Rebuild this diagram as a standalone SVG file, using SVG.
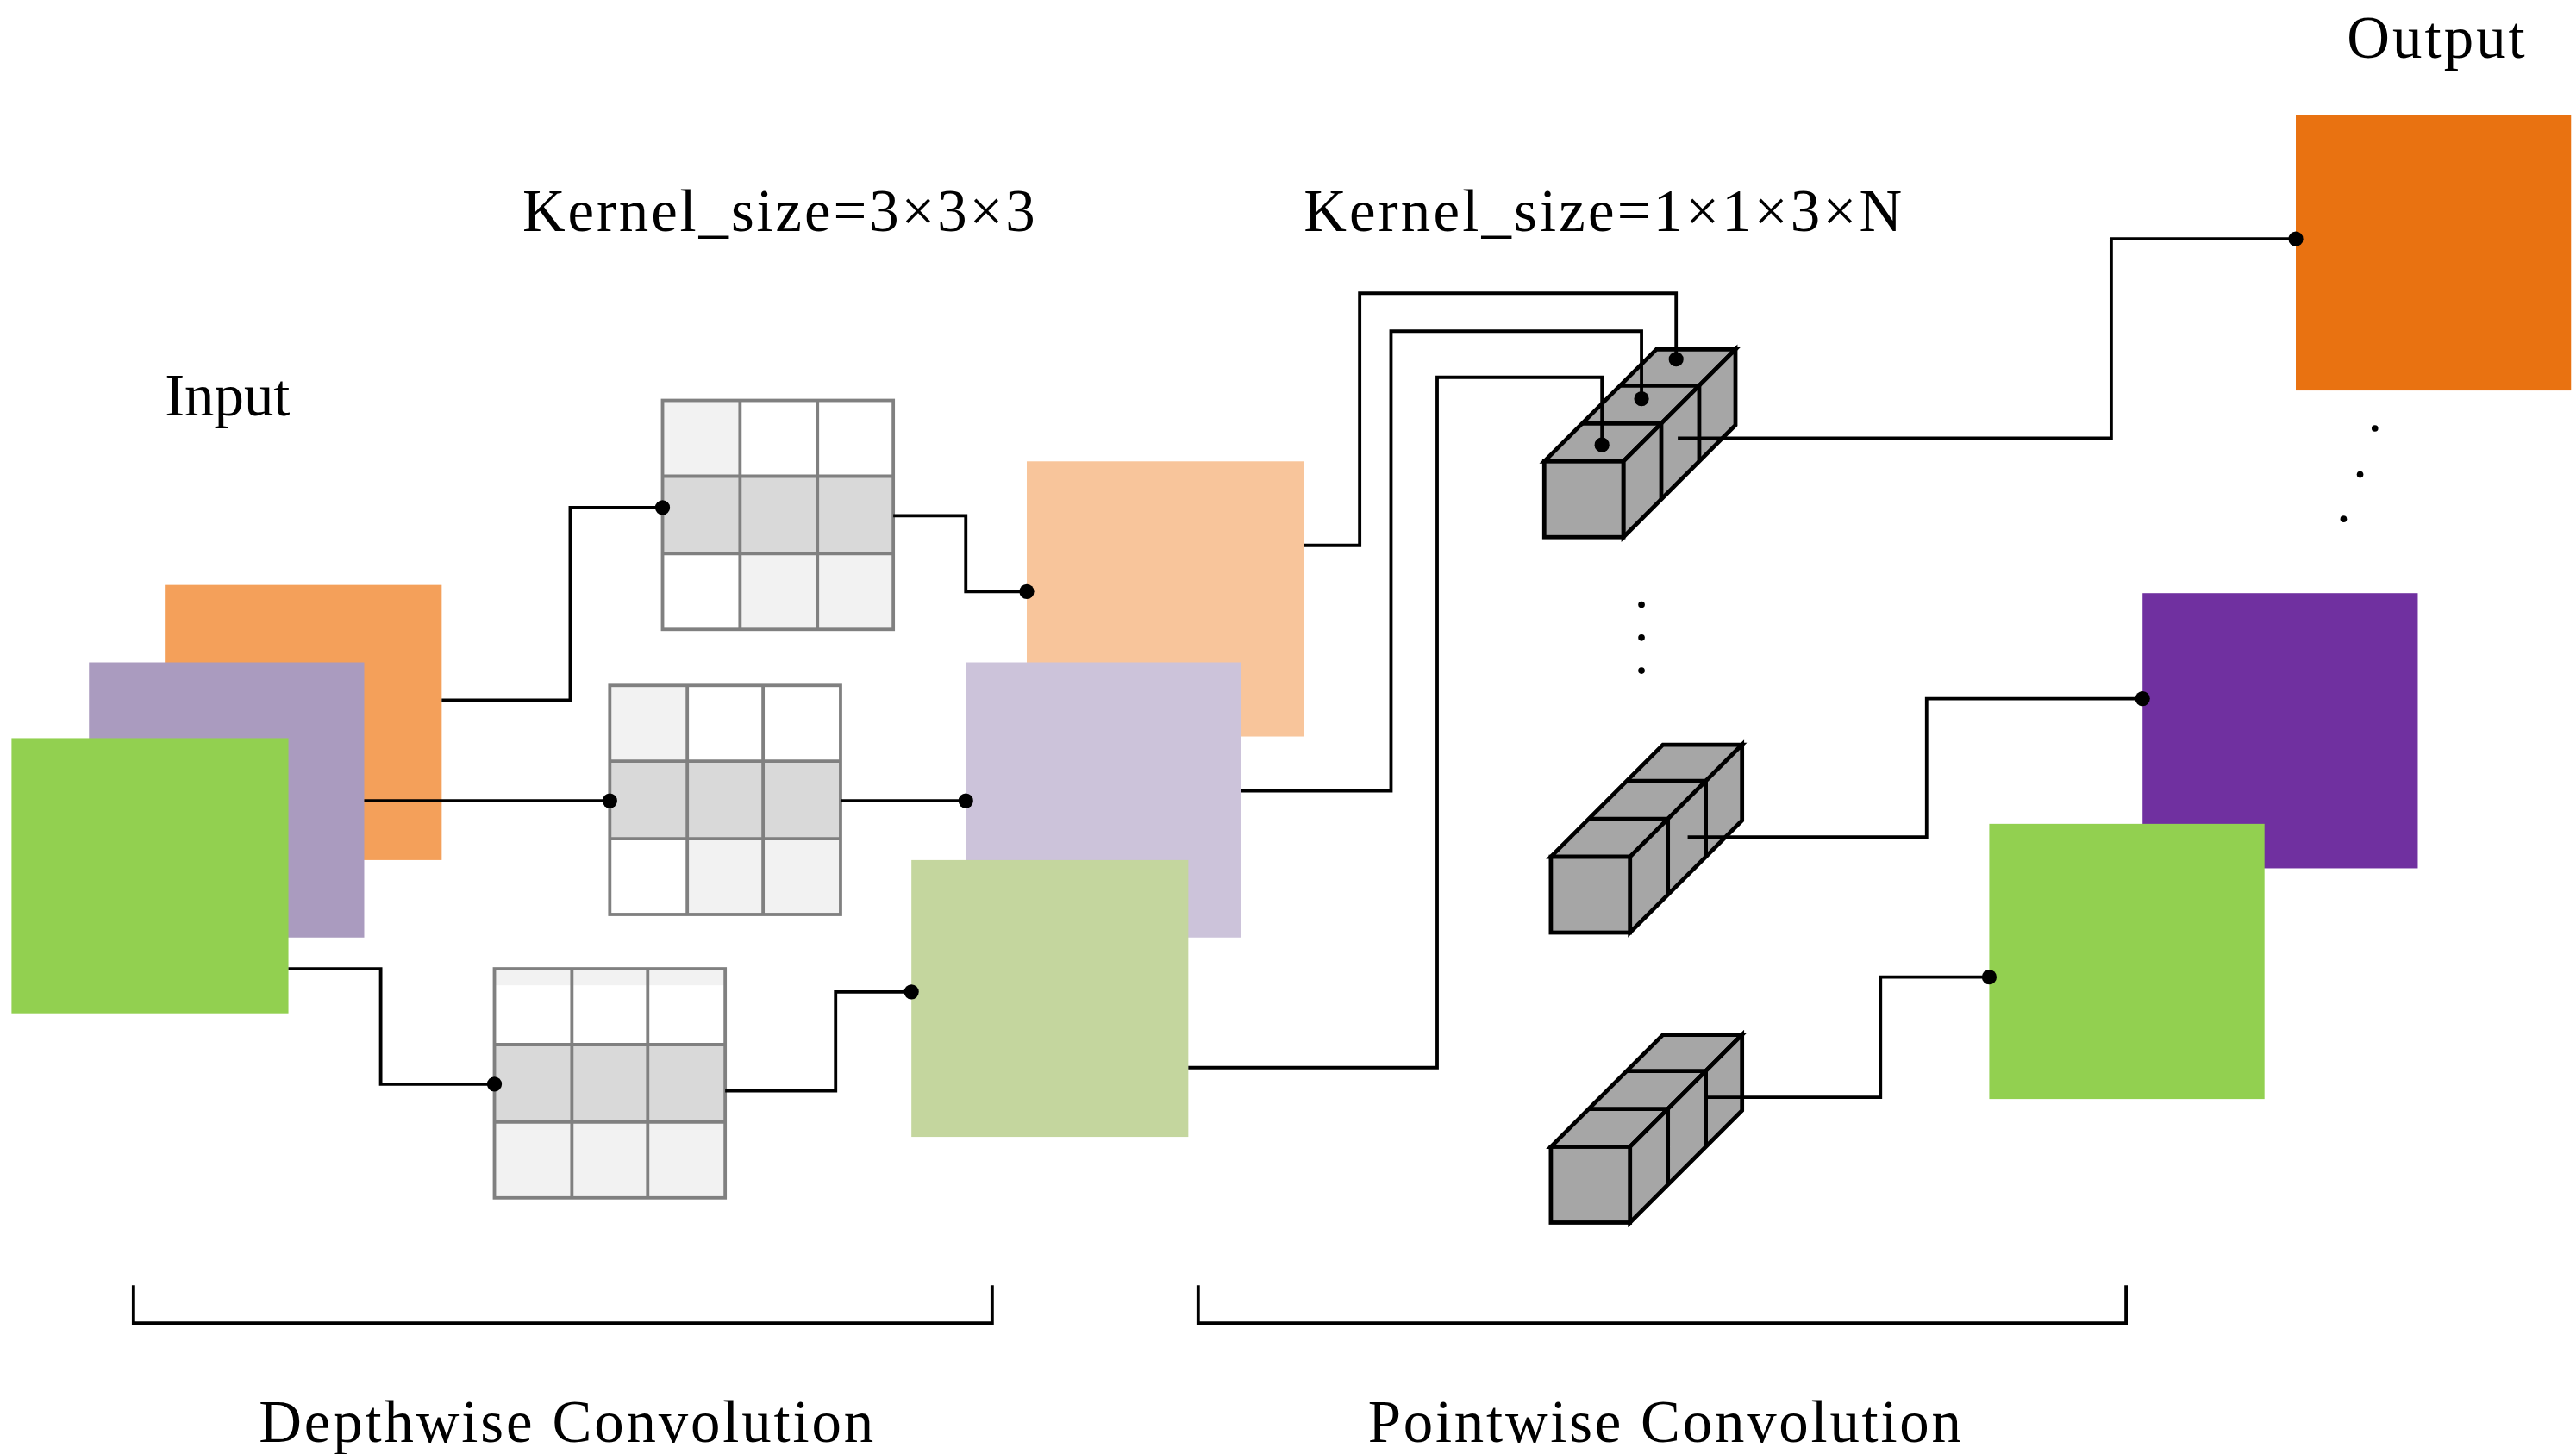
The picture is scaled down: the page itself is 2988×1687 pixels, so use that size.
<svg xmlns="http://www.w3.org/2000/svg" width="2988" height="1687" viewBox="0 0 2988 1687">
<defs>
<style>
text{font-family:"Liberation Serif","Times New Roman",serif;fill:#000;font-size:36px}
.w{stroke:#000;stroke-width:2;fill:none}
.g{stroke:#808080;stroke-width:2;fill:none}
.c{fill:#A6A6A6;stroke:#000;stroke-width:2.5;stroke-linejoin:miter}
.cl{stroke:#000;stroke-width:2.5;fill:none}
.d{fill:#000}
</style>
<g id="cube">
<polygon class="c" points="0,0 48,0 116,-68 68,-68"/>
<polygon class="c" points="48,0 116,-68 116,-22 48,46"/>
<rect class="c" x="0" y="0" width="48" height="46"/>
<path class="cl" d="M23,-23 H71 M46,-46 H94 M71,-23 V23 M94,-46 V0"/>
</g>
</defs>
<rect width="2988" height="1687" fill="#fff"/>
<g transform="scale(1.9117)">
<g id="labels">
<text x="100" y="252">Input</text>
<text x="317" y="140" textLength="311">Kernel_size=3×3×3</text>
<text x="791" y="140" textLength="363">Kernel_size=1×1×3×N</text>
<text x="1424" y="35" textLength="108">Output</text>
<text x="157" y="875" textLength="373">Depthwise Convolution</text>
<text x="830" y="875" textLength="360">Pointwise Convolution</text>
</g>
<g id="input">
<rect x="100" y="355" width="168" height="167" fill="#F4A05A"/>
<rect x="54" y="402" width="167" height="167" fill="#AA9BBF"/>
<rect x="7" y="448" width="168" height="167" fill="#92D050"/>
</g>
<g id="kernel-top">
<rect x="402" y="243" width="47" height="46" fill="#F2F2F2"/>
<rect x="402" y="289" width="140" height="47" fill="#D9D9D9"/>
<rect x="449" y="336" width="93" height="46" fill="#F2F2F2"/>
<rect class="g" x="402" y="243" width="140" height="139"/>
<path class="g" d="M449,243V382M496,243V382M402,289H542M402,336H542"/>
</g>
<g id="kernel-mid">
<rect x="370" y="416" width="47" height="46" fill="#F2F2F2"/>
<rect x="370" y="462" width="140" height="47" fill="#D9D9D9"/>
<rect x="417" y="509" width="93" height="46" fill="#F2F2F2"/>
<rect class="g" x="370" y="416" width="140" height="139"/>
<path class="g" d="M417,416V555M463,416V555M370,462H510M370,509H510"/>
</g>
<g id="kernel-bot">
<rect x="300" y="588" width="140" height="10" fill="#F2F2F2"/>
<rect x="300" y="634" width="140" height="47" fill="#D9D9D9"/>
<rect x="300" y="681" width="140" height="46" fill="#F2F2F2"/>
<rect class="g" x="300" y="588" width="140" height="139"/>
<path class="g" d="M347,588V727M393,588V727M300,634H440M300,681H440"/>
</g>
<g id="dw-maps">
<rect x="623" y="280" width="168" height="167" fill="#F8C59B"/>
<rect x="586" y="402" width="167" height="167" fill="#CCC3DA"/>
<rect x="553" y="522" width="168" height="168" fill="#C4D69E"/>
</g>
<g id="cubes">
<use href="#cube" x="937" y="280"/>
<use href="#cube" x="941" y="520"/>
<use href="#cube" x="941" y="696"/>
</g>
<g id="outputs">
<rect x="1393" y="70" width="167" height="167" fill="#E97211"/>
<rect x="1300" y="360" width="167" height="167" fill="#7030A0"/>
<rect x="1207" y="500" width="167" height="167" fill="#92D050"/>
</g>
<g id="connectors">
<path class="w" d="M268,425H346V308H402"/>
<path class="w" d="M542,313H586V359H623"/>
<path class="w" d="M221,486H370"/>
<path class="w" d="M510,486H586"/>
<path class="w" d="M175,588H231V658H300"/>
<path class="w" d="M440,662H507V602H553"/>
<path class="w" d="M791,331H825V178H1017V218"/>
<path class="w" d="M753,480H844V201H996V242"/>
<path class="w" d="M721,648H872V229H972V270"/>
<path class="w" d="M1018,266H1281V145H1393"/>
<path class="w" d="M1024,508H1169V424H1300"/>
<path class="w" d="M1035,666H1141V593H1207"/>
<g class="d">
<circle cx="402" cy="308" r="4.5"/><circle cx="623" cy="359" r="4.5"/>
<circle cx="370" cy="486" r="4.5"/><circle cx="586" cy="486" r="4.5"/>
<circle cx="300" cy="658" r="4.5"/><circle cx="553" cy="602" r="4.5"/>
<circle cx="1017" cy="218" r="4.5"/><circle cx="996" cy="242" r="4.5"/><circle cx="972" cy="270" r="4.5"/>
<circle cx="1393" cy="145" r="4.5"/><circle cx="1300" cy="424" r="4.5"/><circle cx="1207" cy="593" r="4.5"/>
<circle cx="996" cy="367" r="2"/><circle cx="996" cy="387" r="2"/><circle cx="996" cy="407" r="2"/>
<circle cx="1441" cy="260" r="2"/><circle cx="1432" cy="288" r="2"/><circle cx="1422" cy="315" r="2"/>
</g>
</g>
<g id="brackets">
<path class="w" d="M81,780V803H602V780"/>
<path class="w" d="M727,780V803H1290V780"/>
</g>
</g>
</svg>
